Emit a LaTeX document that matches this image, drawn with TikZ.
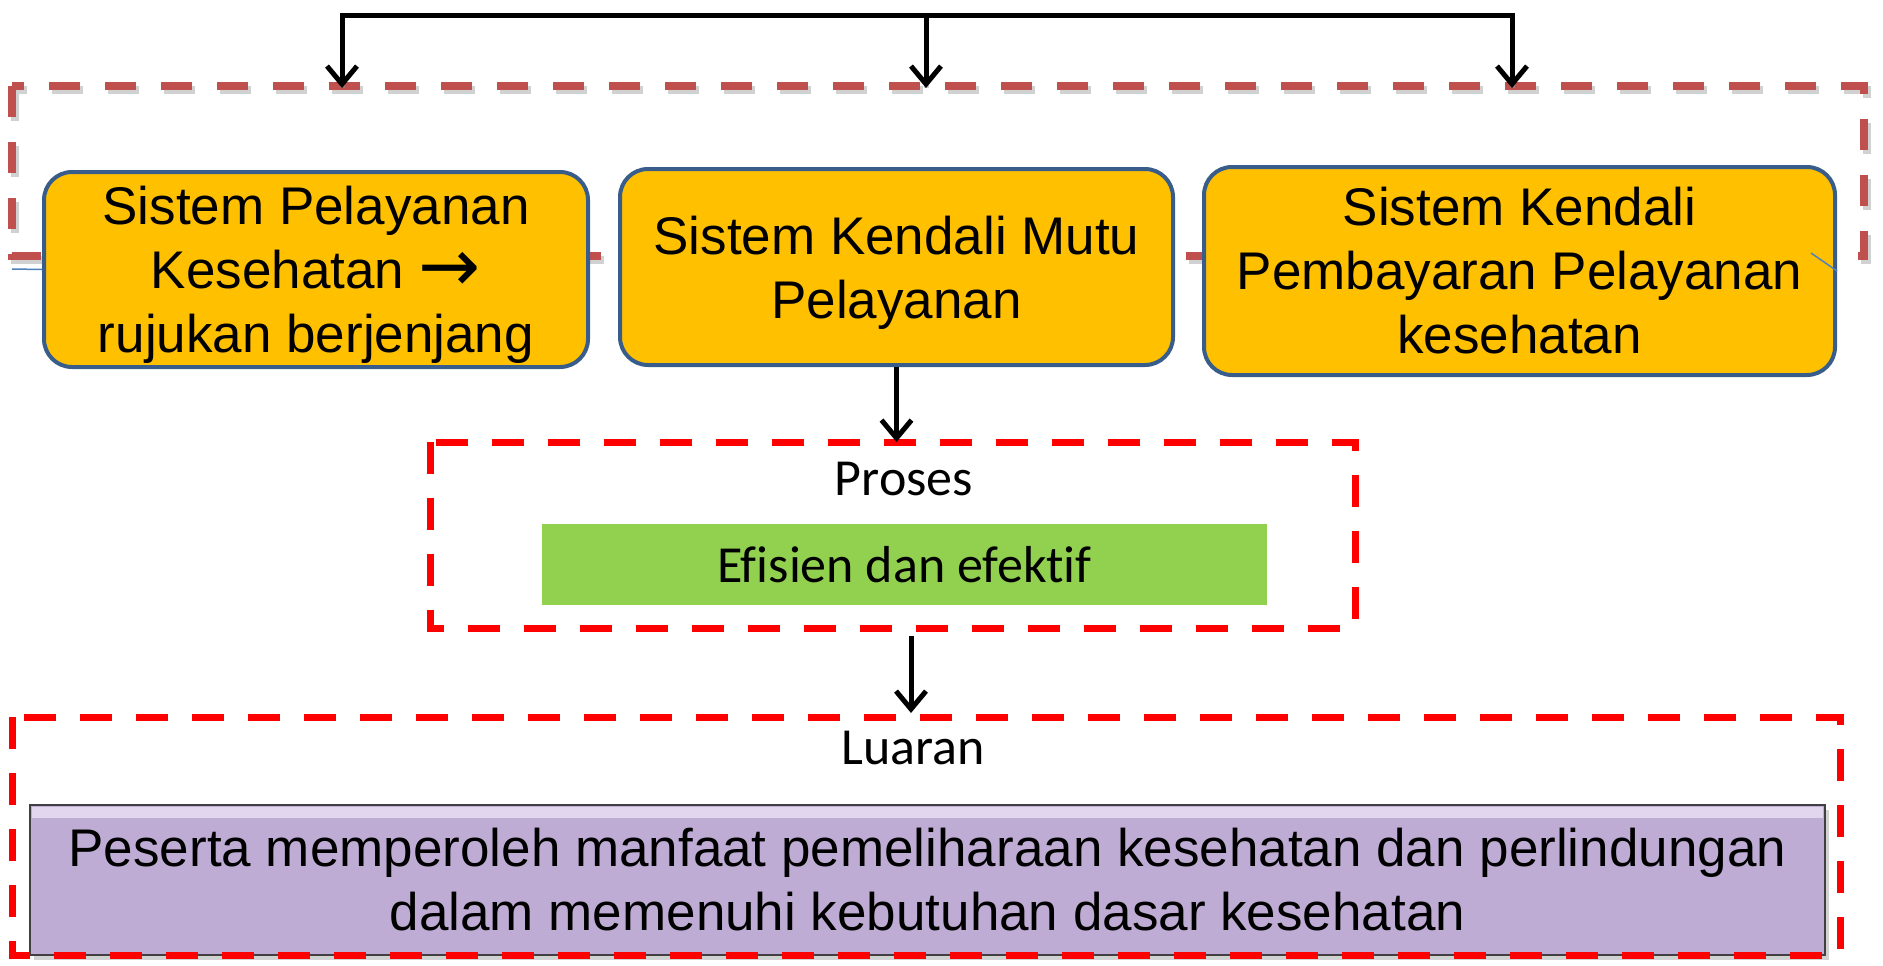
\documentclass[tikz,border=0pt]{standalone}
\usepackage{fontspec}
\setmainfont{Liberation Sans}
\newfontfamily\calibrifont[Ligatures=NoCommon]{Carlito}
\newfontfamily\arrowfont{DejaVu Sans}
\usetikzlibrary{arrows.meta}
\definecolor{boxfill}{RGB}{255,192,0}
\definecolor{boxline}{RGB}{56,93,138}
\definecolor{brownred}{RGB}{192,80,77}
\definecolor{greenfill}{RGB}{146,208,80}
\definecolor{purplefill}{RGB}{191,172,212}
\definecolor{purpletop}{RGB}{226,214,238}
\definecolor{conn}{RGB}{79,129,189}
\begin{document}
\begin{tikzpicture}[x=1pt,y=-1pt,
  ybox/.style={draw=boxline, line width=4pt, fill=boxfill, rounded corners=28pt,
    align=center, font=\fontsize{53}{64}\selectfont, inner sep=0pt},
  greenbox/.style={fill=greenfill, inner sep=0pt, font=\calibrifont\fontsize{52}{62}\selectfont},
  purplebox/.style={draw=black!75, line width=2.5pt, fill=purplefill, inner sep=0pt,
    align=center, font=\fontsize{53}{64}\selectfont},
  label/.style={font=\calibrifont\fontsize{52}{62}\selectfont, inner sep=0pt},
  reddash/.style={draw=red, line width=7pt, dash pattern=on 32pt off 24pt},
  browndash/.style={draw=brownred, line width=8pt, dash pattern=on 31pt off 25pt},
  frame/.style={inner sep=0pt, outer sep=0pt},
  arr/.style={line width=5pt, -{Straight Barb[length=18pt,width=30pt]}},
  darr/.style={line width=5pt, {Straight Barb[length=18pt,width=30pt]}-{Straight Barb[length=18pt,width=30pt]}},
  shadowline/.style={draw=black!40, opacity=0.45},
  thin/.style={draw=conn, line width=1.5pt}
]
\useasboundingbox (0,0) rectangle (1883,966);

% top brown dashed frame (behind boxes)
\node[frame, minimum width=1852pt, minimum height=170pt] (topframe) at (938,171) {};
\draw[browndash, shadowline, shift={(3pt,-4pt)}] (12,86) rectangle (1864,256);
\draw[browndash] (12,86) rectangle (1864,256);

% three yellow boxes
\node[ybox, text depth=0pt, minimum width=544pt, minimum height=195pt] (b1) at (316,269.5)
  {Sistem Pelayanan\\Kesehatan \raisebox{-3pt}{\scalebox{1.4}{\arrowfont →}}\\rujukan berjenjang};
\node[ybox, text depth=0pt, minimum width=553pt, minimum height=196pt] (b2) at (896.5,267)
  {Sistem Kendali Mutu\\Pelayanan};
\node[ybox, minimum width=631pt, minimum height=208pt] (b3) at (1519.5,271)
  {Sistem Kendali\\Pembayaran Pelayanan\\kesehatan};

% small blue connector fragments
\coordinate (c1) at (12,269);
\draw[thin] (c1) -- (b1.west);
\coordinate (c3) at (1811,253);
\draw[thin] (c3) -- (b3.east);

% top distribution arrows
\coordinate (t1) at (342,16);
\coordinate (t2) at (926,16);
\coordinate (t3) at (1512,16);
\coordinate (a1) at (342,88);
\coordinate (a2) at (926,88);
\coordinate (a3) at (1512,88);
\draw[line width=5pt, shadowline, shift={(3pt,-4pt)}] (a1) |- (t2) -| (a3) (t2) -- (a2);
\draw[darr] (a1) |- (t2) -| (a3);
\draw[arr] (t2) -- (a2);

% Proses frame
\node[frame, minimum width=925pt, minimum height=186pt] (proses) at (892.5,535) {};
\draw[reddash] (430,442) rectangle (1355,628);
\node[label] (proseslbl) at (904,479) {Proses};
\node[greenbox, minimum width=725pt, minimum height=81pt] (green) at (904.5,564.5)
  {Efisien dan efektif};

\draw[arr] (b2.south) -- (b2.south |- proses.north);

% Luaran frame
\node[frame, minimum width=1828pt, minimum height=238pt] (luaran) at (926,836) {};
\node[label] (luaranlbl) at (913,748) {Luaran};
\fill[black!35, opacity=0.5] (34,810) rectangle (1829,960);
\node[purplebox, minimum width=1795pt, minimum height=150pt] (purple) at (927.5,880)
  {Peserta memperoleh manfaat pemeliharaan kesehatan dan perlindungan\\dalam memenuhi kebutuhan dasar kesehatan};
\fill[purpletop] (32,807) rectangle (1823,818);
\draw[reddash] (12,717) rectangle (1840,955);

\coordinate (p1) at (911,636);
\coordinate (p2) at (911,713);
\draw[arr] (p1) -- (p2);
\end{tikzpicture}
\end{document}
